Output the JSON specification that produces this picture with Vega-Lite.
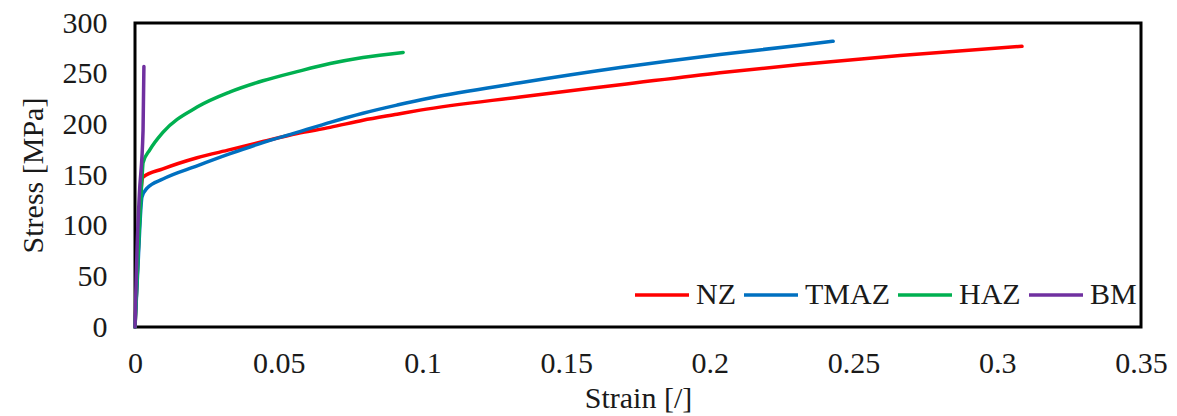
{
  "$schema": "https://vega.github.io/schema/vega-lite/v6.json",
  "autosize": {"type": "none"},
  "padding": {"left": 135, "top": 23, "right": 36, "bottom": 89},
  "width": 1006,
  "height": 304,
  "background": "white",
  "config": {
    "font": "Liberation Serif",
    "view": {"stroke": "black", "strokeWidth": 3},
    "axis": {"grid": false, "ticks": false, "domain": false, "labelFont": "Liberation Serif", "titleFont": "Liberation Serif", "labelColor": "#1a1a1a", "titleColor": "#1a1a1a", "labelFontSize": 30, "titleFontSize": 30, "titleFontWeight": "normal"}
  },
  "data": {"values": [
    {"series": "NZ", "strain": 0, "stress": 0},
    {"series": "NZ", "strain": 0.0012, "stress": 80},
    {"series": "NZ", "strain": 0.0022, "stress": 138},
    {"series": "NZ", "strain": 0.0028, "stress": 148},
    {"series": "NZ", "strain": 0.0097, "stress": 156},
    {"series": "NZ", "strain": 0.0216, "stress": 167},
    {"series": "NZ", "strain": 0.0331, "stress": 175},
    {"series": "NZ", "strain": 0.0445, "stress": 183},
    {"series": "NZ", "strain": 0.0564, "stress": 191},
    {"series": "NZ", "strain": 0.0679, "stress": 197},
    {"series": "NZ", "strain": 0.0793, "stress": 204},
    {"series": "NZ", "strain": 0.0912, "stress": 210},
    {"series": "NZ", "strain": 0.0992, "stress": 214},
    {"series": "NZ", "strain": 0.134, "stress": 227},
    {"series": "NZ", "strain": 0.1688, "stress": 239},
    {"series": "NZ", "strain": 0.2035, "stress": 251},
    {"series": "NZ", "strain": 0.2314, "stress": 259},
    {"series": "NZ", "strain": 0.2662, "stress": 268},
    {"series": "NZ", "strain": 0.3086, "stress": 277},
    {"series": "TMAZ", "strain": 0, "stress": 0},
    {"series": "TMAZ", "strain": 0.0012, "stress": 70},
    {"series": "TMAZ", "strain": 0.002, "stress": 115},
    {"series": "TMAZ", "strain": 0.0024, "stress": 128},
    {"series": "TMAZ", "strain": 0.0042, "stress": 137},
    {"series": "TMAZ", "strain": 0.0097, "stress": 146},
    {"series": "TMAZ", "strain": 0.0216, "stress": 159},
    {"series": "TMAZ", "strain": 0.0331, "stress": 171},
    {"series": "TMAZ", "strain": 0.0445, "stress": 182},
    {"series": "TMAZ", "strain": 0.0564, "stress": 192},
    {"series": "TMAZ", "strain": 0.0679, "stress": 202},
    {"series": "TMAZ", "strain": 0.0793, "stress": 211},
    {"series": "TMAZ", "strain": 0.0912, "stress": 219},
    {"series": "TMAZ", "strain": 0.1026, "stress": 226},
    {"series": "TMAZ", "strain": 0.134, "stress": 241},
    {"series": "TMAZ", "strain": 0.1688, "stress": 256},
    {"series": "TMAZ", "strain": 0.2035, "stress": 269},
    {"series": "TMAZ", "strain": 0.2314, "stress": 278},
    {"series": "TMAZ", "strain": 0.2429, "stress": 282},
    {"series": "HAZ", "strain": 0, "stress": 0},
    {"series": "HAZ", "strain": 0.0013, "stress": 85},
    {"series": "HAZ", "strain": 0.0025, "stress": 150},
    {"series": "HAZ", "strain": 0.0028, "stress": 162},
    {"series": "HAZ", "strain": 0.0052, "stress": 175},
    {"series": "HAZ", "strain": 0.0097, "stress": 192},
    {"series": "HAZ", "strain": 0.0216, "stress": 217},
    {"series": "HAZ", "strain": 0.0331, "stress": 232},
    {"series": "HAZ", "strain": 0.0445, "stress": 243},
    {"series": "HAZ", "strain": 0.0564, "stress": 252},
    {"series": "HAZ", "strain": 0.0679, "stress": 260},
    {"series": "HAZ", "strain": 0.0793, "stress": 266},
    {"series": "HAZ", "strain": 0.0933, "stress": 271},
    {"series": "BM", "strain": 0, "stress": 0},
    {"series": "BM", "strain": 0.0007, "stress": 76},
    {"series": "BM", "strain": 0.0015, "stress": 130},
    {"series": "BM", "strain": 0.0028, "stress": 194},
    {"series": "BM", "strain": 0.0031, "stress": 257}
  ]},
  "mark": {"type": "line", "strokeWidth": 3.5, "strokeCap": "round", "interpolate": "monotone"},
  "encoding": {
    "x": {"field": "strain", "type": "quantitative", "scale": {"domain": [0, 0.35], "nice": false, "zero": false},
      "axis": {"title": "Strain [/]", "values": [0, 0.05, 0.1, 0.15, 0.2, 0.25, 0.3, 0.35], "format": "~g", "labelPadding": 21, "titlePadding": 5, "labelFlush": false}},
    "y": {"field": "stress", "type": "quantitative", "scale": {"domain": [0, 300], "nice": false},
      "axis": {"title": "Stress [MPa]", "values": [0, 50, 100, 150, 200, 250, 300], "format": "d", "labelPadding": 28, "titlePadding": 14, "labelFlush": false}},
    "color": {"field": "series", "type": "nominal",
      "scale": {"domain": ["NZ", "TMAZ", "HAZ", "BM"], "range": ["#FF0000", "#0070C0", "#00B050", "#7030A0"]},
      "legend": {"title": null, "orient": "none", "legendX": 498, "legendY": 243, "direction": "horizontal",
        "symbolType": "stroke", "symbolSize": 2916, "symbolStrokeWidth": 3.5, "labelFont": "Liberation Serif", "labelFontSize": 30, "labelColor": "#1a1a1a", "labelOffset": 5, "columnPadding": 1, "padding": 0}
    },
    "order": {"field": "series", "sort": "ascending"}
  }
}
